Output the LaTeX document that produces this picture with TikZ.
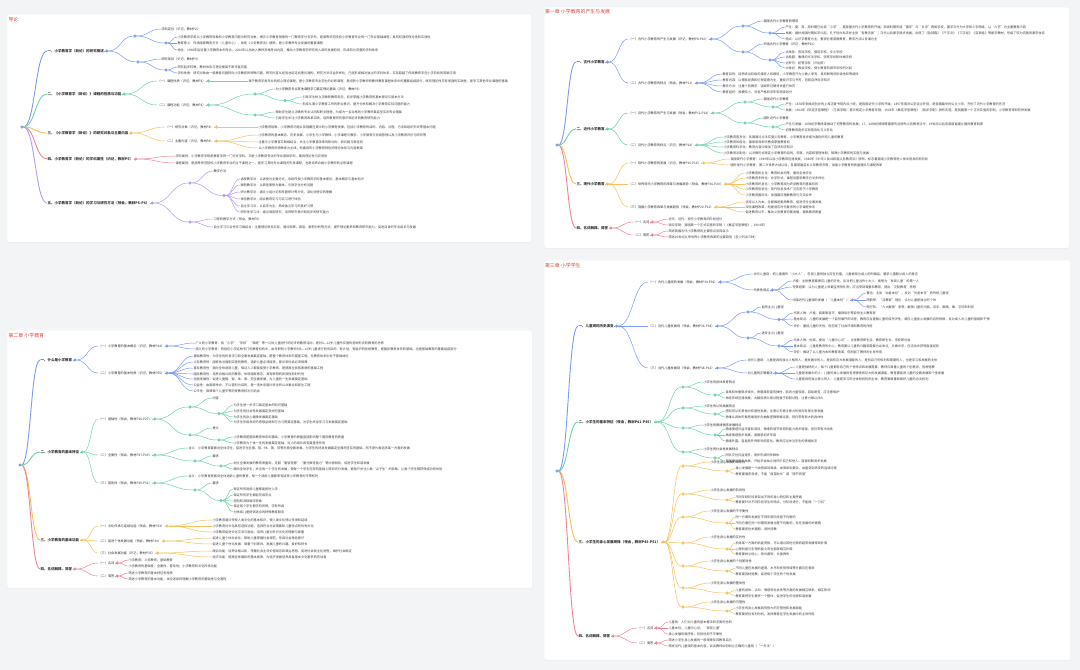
\documentclass[tikz,border=0pt]{standalone}
\usepackage{fontspec}
\setmainfont{Noto Sans CJK SC}
\usepackage{tikz}
\usetikzlibrary{calc,positioning,shadows}

\definecolor{pagebg}{HTML}{F3F4F6}
\definecolor{ttlred}{HTML}{E0453A}
\definecolor{txt}{HTML}{333333}
\definecolor{cblue}{HTML}{7C9CF4}
\definecolor{cgreen}{HTML}{6ED3A6}
\definecolor{corange}{HTML}{F5C15A}
\definecolor{cred}{HTML}{EF8594}
\definecolor{cpurple}{HTML}{B99BEF}

\begin{document}
\begin{tikzpicture}[x=1mm, y=-1mm,
    font=\fontsize{9}{10}\selectfont,
    panel/.style ={fill=white, draw=black!5, line width=0.4mm, rounded corners=1.5mm,
                   drop shadow={opacity=0.07, shadow xshift=0mm, shadow yshift=-1mm}},
    ttl/.style   ={anchor=west, inner sep=0pt, text=ttlred, font=\fontsize{14}{15}\selectfont},
    topic/.style ={anchor=west, inner sep=0.5mm, text=txt, font=\fontsize{10}{11}\selectfont\bfseries},
    sub/.style   ={anchor=west, inner sep=0.5mm, text=txt},
    leaf/.style  ={anchor=west, inner sep=0.5mm, text=black!75},
    dot/.style   ={circle, draw, fill=white, line width=0.4mm, minimum size=2.6mm, inner sep=0pt},
    ln/.style    ={line width=0.5mm},
    trunk/.style ={line width=0.9mm},
    cv/.style    ={to path={.. controls ($(\tikztostart)!0.5!(\tikztotarget |- \tikztostart)$)
                            and ($(\tikztotarget)!0.5!(\tikztostart |- \tikztotarget)$) .. (\tikztotarget)}}
]

\fill[pagebg] (0,0) rectangle (1080,670);
\useasboundingbox (0,0) rectangle (1080,670);

% ================= Panel 1: 导论 =================
\node[panel, anchor=north west, minimum width=524mm, minimum height=228mm] (pan1) at (7,14) {};
\node[ttl] (ttl1) at (8.5,19.5) {导论};
\node[dot, cblue] (p1r) at (22,127) {};
\node[topic] (p1m1) at (47,51)  {一、小学教育学（新论）的研究概述};
\node[topic] (p1m2) at (47,94)  {二、《小学教育学（新论）》课程的性质与功能};
\node[topic] (p1m3) at (47,133) {三、《小学教育学（新论）》的研究对象与主要内容};
\node[topic] (p1m4) at (47,159) {四、小学教育学（新论）的学科属性（识记，教材P5）};
\node[topic] (p1m5) at (47,203) {五、小学教育学（新论）的学习与研究方法（领会，教材P5-P6）};
\foreach \m/\c in {1/cblue, 2/cgreen, 3/corange, 4/cred, 5/cpurple}{
  \node[dot, \c, right=0.8mm of p1m\m] (p1d\m) {};
  \draw[trunk, \c] (p1r.east) to[cv] (p1m\m.west);
  \draw[ln, \c] (p1m\m.east) -- (p1d\m.west);
}

% --- 一 (blue) ---
\node[dot, cblue] (p1d11) at (135,36) {};
\node[dot, cblue] (p1d12) at (138,62) {};
\node[sub] (p1s11) at (161,29) {学科定位（识记，教材P2）};
\node[dot, cblue] (p1d111) at (166,43) {};
\node[sub] (p1s12) at (161,59) {研究现状（识记，教材P3）};
\node[dot, cblue] (p1d121) at (166,70) {};
\foreach \n in {p1d11, p1d12} \draw[ln, cblue] (p1d1.east) to[cv] (\n.west);
\draw[ln, cblue] (p1d11.east) to[cv] (p1s11.west);
\draw[ln, cblue] (p1d11.east) to[cv] (p1d111.west);
\draw[ln, cblue] (p1d12.east) to[cv] (p1s12.west);
\draw[ln, cblue] (p1d12.east) to[cv] (p1d121.west);
\foreach \y/\t [count=\i] in {
  37/{小学教育学是以小学教育现象和小学教育问题为研究对象，揭示小学教育规律的一门教育学分支学科，是高等师范院校小学教育专业的一门专业基础课程，具有较强的理论性和实践性},
  43/{教育意义：传承国家教育方针（儿童中心），体现《义务教育法》精神，是小学教师专业发展的重要课程},
  50/{地位：1998年后设置小学教育本科专业，2000年以后纳入教师资格考试内容，推动小学教育学研究进入新的发展阶段，形成较为完整的学科体系}}{
  \node[leaf] (p1a\i) at (177,\y) {\t};
  \draw[ln, cblue] (p1d111.east) to[cv] (p1a\i.west);
}
\foreach \y/\t [count=\i] in {
  67/{研究起步较晚，教材体系与理论框架不断丰富完善},
  73/{学科性质：研究对象由一般教育问题转向小学教育的特殊问题，研究内容从经验总结走向理论建构，研究方法日益多样化，已经形成相对独立的学科体系，实际超越了传统教育学在小学阶段的简单应用}}{
  \node[leaf] (p1b\i) at (177,\y) {\t};
  \draw[ln, cblue] (p1d121.east) to[cv] (p1b\i.west);
}

% --- 二 (green) ---
\foreach \n/\y/\t in {1/81/{（一）课程性质（识记，教材P3）}, 2/105/{（二）课程功能（识记，教材P3）}}{
  \node[sub] (p1s2\n) at (157,\y) {\t};
  \node[dot, cgreen, right=0.8mm of p1s2\n] (p1d2\n) {};
  \draw[ln, cgreen] (p1d2.east) to[cv] (p1s2\n.west);
  \draw[ln, cgreen] (p1s2\n.east) -- (p1d2\n.west);
}
\node[leaf] (p1c1) at (248,81) {属于教育学类专业的核心理论课程，是小学教育专业学生的必修课程，是培养小学教师的教师教育课程体系中的重要组成部分，既有理论性又有很强的实践性，是学习其他专业课程的基础};
\draw[ln, cgreen] (p1d21.east) -- (p1c1.west);
\node[dot, cgreen] (p1d221) at (255,94) {};
\node[dot, cgreen] (p1d222) at (255,115) {};
\foreach \n in {p1d221, p1d222} \draw[ln, cgreen] (p1d22.east) to[cv] (\n.west);
\node[sub] (p1s221) at (275,89) {为小学教育专业其他课程学习奠定理论基础（识记，教材P3）};
\node[dot, cgreen] (p1d2211) at (285,100.5) {};
\draw[ln, cgreen] (p1d221.east) to[cv] (p1s221.west);
\draw[ln, cgreen] (p1d221.east) to[cv] (p1d2211.west);
\foreach \y/\t [count=\i] in {
  97/{引导学生树立正确的教育观念，初步掌握小学教育的基本理论与基本方法},
  104/{形成从事小学教育工作的职业意识，提升分析和解决小学教育实际问题的能力}}{
  \node[leaf] (p1c2\i) at (302,\y) {\t};
  \draw[ln, cgreen] (p1d2211.east) to[cv] (p1c2\i.west);
}
\foreach \y/\t [count=\i] in {
  112/{帮助学生建立正确的专业认同和职业理想，为成为一名合格的小学教师奠定坚实的专业基础},
  118/{引导学生关注小学教育改革实践，培养教育研究意识和初步的教育研究能力}}{
  \node[leaf] (p1c3\i) at (275,\y) {\t};
  \draw[ln, cgreen] (p1d222.east) to[cv] (p1c3\i.west);
}

% --- 三 (orange) ---
\foreach \n/\y/\t in {1/127/{（一）研究对象（识记，教材P4）}, 2/141/{（二）主要内容（识记，教材P4）}}{
  \node[sub] (p1s3\n) at (165,\y) {\t};
  \node[dot, corange, right=0.8mm of p1s3\n] (p1d3\n) {};
  \draw[ln, corange] (p1d3.east) to[cv] (p1s3\n.west);
  \draw[ln, corange] (p1s3\n.east) -- (p1d3\n.west);
}
\node[leaf] (p1e1) at (258,127) {小学教育现象、小学教育问题以及隐藏在其中的小学教育规律，包括小学教育的目的、内容、过程、方法和组织形式等基本问题};
\draw[ln, corange] (p1d31.east) -- (p1e1.west);
\foreach \y/\t [count=\i] in {
  135/{小学教育的基本概念、历史发展、小学生与小学教师、小学课程与教学、小学德育与班级管理以及小学教育评价与研究等},
  142/{注重与小学教育实践相结合，关注小学教育改革的新动向、新问题与新经验},
  148/{以小学教育的特殊性为主线，构建具有小学教育特色的理论体系与内容框架}}{
  \node[leaf] (p1e2\i) at (258,\y) {\t};
  \draw[ln, corange] (p1d32.east) to[cv] (p1e2\i.west);
}

% --- 四 (red) ---
\foreach \y/\t [count=\i] in {
  156/{学科属性：小学教育学既是教育学的一门分支学科，又是小学教育专业的专业基础学科，兼具理论性与应用性},
  163/{课程属性：是高等师范院校小学教育专业的主干课程之一，是学习其他专业课程的先导课程，也是培养合格小学教师的必修课程}}{
  \node[leaf] (p1f\i) at (175,\y) {\t};
  \draw[ln, cred] (p1d4.east) to[cv] (p1f\i.west);
}

% --- 五 (purple) ---
\node[dot, cpurple] (p1d51) at (190,183) {};
\node[dot, cpurple] (p1d52) at (190,222) {};
\foreach \n in {p1d51, p1d52} \draw[ln, cpurple] (p1d5.east) to[cv] (\n.west);
\node[sub] (p1s51) at (213,171) {教学方法};
\node[dot, cpurple] (p1d511) at (224,195.5) {};
\draw[ln, cpurple] (p1d51.east) to[cv] (p1s51.west);
\draw[ln, cpurple] (p1d51.east) to[cv] (p1d511.west);
\foreach \y/\t [count=\i] in {
  179/{讲授教学法：以讲授为主要方式，系统传授小学教育学的基本理论、基本概念与基本知识},
  185/{案例教学法：以典型案例为载体，引导学生分析问题},
  192/{研讨教学法：通过小组讨论和专题研讨等方式，深化对理论的理解},
  199/{体验教学法：结合教育见习与实习进行体验},
  206/{自主学习法：以自学为主，养成独立学习的良好习惯},
  212/{研究性学习法：通过调查研究，培养研究意识和初步的研究能力}}{
  \node[leaf] (p1g\i) at (240,\y) {\t};
  \draw[ln, cpurple] (p1d511.east) to[cv] (p1g\i.west);
}
\foreach \y/\t [count=\i] in {
  219/{习得的教学方式（领会，教材P6）},
  227/{自主学习与合作学习相结合：注重理论联系实际，通过观察、调查、案例分析等方式，提升理论素养和教育研究能力，促进自身的专业成长与发展}}{
  \node[leaf] (p1h\i) at (213,\y) {\t};
  \draw[ln, cpurple] (p1d52.east) to[cv] (p1h\i.west);
}

% ================= Panel 2: 第一章 =================
\node[panel, anchor=north west, minimum width=525mm, minimum height=241mm] (pan2) at (544,7) {};
\node[ttl] (ttl2) at (545,11.5) {第一章 小学教育的产生与发展};
\node[dot, cblue] (p2r) at (557,145) {};
\node[topic] (p2m1) at (576,62)  {一、古代小学教育};
\node[topic] (p2m2) at (576,129) {二、近代小学教育};
\node[topic] (p2m3) at (576,184) {三、现代小学教育};
\node[topic] (p2m4) at (576,228) {四、名词解释、简答};
\foreach \m/\c in {1/cblue, 2/cgreen, 3/corange, 4/cred}{
  \node[dot, \c, right=0.8mm of p2m\m] (p2d\m) {};
  \draw[trunk, \c] (p2r.east) to[cv] (p2m\m.west);
  \draw[ln, \c] (p2m\m.east) -- (p2d\m.west);
}

% --- 一 (blue) ---
\foreach \n/\y/\t in {1/39/{（一）古代小学教育的产生与发展（识记，教材P8-P10）}, 2/83/{（二）古代小学教育的特点（领会，教材P11）}}{
  \node[sub] (p2s1\n) at (628,\y) {\t};
  \node[dot, cblue, right=0.8mm of p2s1\n] (p2d1\n) {};
  \draw[ln, cblue] (p2d1.east) to[cv] (p2s1\n.west);
  \draw[ln, cblue] (p2s1\n.east) -- (p2d1\n.west);
}
\node[dot, cblue] (p2d111) at (743,26) {};
\node[dot, cblue] (p2d112) at (743,52) {};
\foreach \n in {p2d111, p2d112} \draw[ln, cblue] (p2d11.east) to[cv] (\n.west);
\node[sub] (p2s111) at (763,21) {我国古代小学教育的萌芽};
\node[dot, cblue] (p2d1111) at (770,33) {};
\node[sub] (p2s112) at (763,44) {外国古代小学教育（识记，教材P10）};
\node[dot, cblue] (p2d1121) at (770,60) {};
\draw[ln, cblue] (p2d111.east) to[cv] (p2s111.west);
\draw[ln, cblue] (p2d111.east) to[cv] (p2d1111.west);
\draw[ln, cblue] (p2d112.east) to[cv] (p2s112.west);
\draw[ln, cblue] (p2d112.east) to[cv] (p2d1121.west);
\foreach \y/\t [count=\i] in {
  27/{产生：夏、商、周时期已出现“小学”，是我国古代小学教育的开端；西周时期形成“国学”与“乡学”两类学校，国学又分为大学和小学两级，以“六艺”为主要教育内容},
  33/{发展：春秋战国时期私学兴起，孔子创办私学并主张“有教无类”；汉代以后蒙学逐步发展，出现了《急就篇》《千字文》《三字经》《百家姓》等蒙学教材，形成了较为完备的蒙学体系},
  39/{特点：以识字教育为主，重视伦理道德教育，教学方法以背诵为主}}{
  \node[leaf] (p2a\i) at (785,\y) {\t};
  \draw[ln, cblue] (p2d1111.east) to[cv] (p2a\i.west);
}
\foreach \y/\t [count=\i] in {
  52/{古埃及：宫廷学校、僧侣学校、文士学校},
  57/{古希腊：雅典的文法学校、弦琴学校和体操学校},
  63/{古罗马：初等学校（卢达斯）},
  68/{中世纪：教会学校、骑士教育和城市学校的兴起}}{
  \node[leaf] (p2b\i) at (785,\y) {\t};
  \draw[ln, cblue] (p2d1121.east) to[cv] (p2b\i.west);
}
\foreach \y/\t [count=\i] in {
  74/{教育目的：培养统治阶级的接班人和顺民，小学教育只为少数人享有，具有鲜明的阶级性和等级性},
  80/{教育内容：以儒家经典和伦理道德为主，重视识字与书写，忽视自然科学知识},
  86/{教学方法：注重个别教学，强调死记硬背并盛行体罚},
  92/{教育组织：规模较小，没有严格的学年和班级划分}}{
  \node[leaf] (p2c\i) at (722,\y) {\t};
  \draw[ln, cblue] (p2d12.east) to[cv] (p2c\i.west);
}

% --- 二 (green) ---
\foreach \n/\y/\t in {1/113/{（一）近代小学教育的产生与发展（领会，教材P12-P14）}, 2/145/{（二）近代小学教育的特点（识记，教材P14）}}{
  \node[sub] (p2s2\n) at (628,\y) {\t};
  \node[dot, cgreen, right=0.8mm of p2s2\n] (p2d2\n) {};
  \draw[ln, cgreen] (p2d2.east) to[cv] (p2s2\n.west);
  \draw[ln, cgreen] (p2s2\n.east) -- (p2d2\n.west);
}
\node[dot, cgreen] (p2d211) at (745,102) {};
\node[dot, cgreen] (p2d212) at (745,123) {};
\foreach \n in {p2d211, p2d212} \draw[ln, cgreen] (p2d21.east) to[cv] (\n.west);
\node[sub] (p2s211) at (763,99) {我国近代小学教育};
\node[dot, cgreen] (p2d2111) at (773,107) {};
\node[sub] (p2s212) at (763,118) {国外近代小学教育};
\node[dot, cgreen] (p2d2121) at (773,127) {};
\draw[ln, cgreen] (p2d211.east) to[cv] (p2s211.west);
\draw[ln, cgreen] (p2d211.east) to[cv] (p2d2111.west);
\draw[ln, cgreen] (p2d212.east) to[cv] (p2s212.west);
\draw[ln, cgreen] (p2d212.east) to[cv] (p2d2121.west);
\foreach \y/\t [count=\i] in {
  104/{产生：1878年张焕纶创办的上海正蒙书院内设小班，是我国近代小学的开端；1897年南洋公学设立外院，是我国最早的公立小学，开创了近代小学教育的先河},
  110/{发展：1902年《钦定学堂章程》（壬寅学制）首次规定小学教育年限；1904年《奏定学堂章程》（癸卯学制）颁布实施，是我国第一个正式实施的学制，小学教育得到较快发展}}{
  \node[leaf] (p2e\i) at (785,\y) {\t};
  \draw[ln, cgreen] (p2d2111.east) to[cv] (p2e\i.west);
}
\foreach \y/\t [count=\i] in {
  124/{产生与发展：16世纪宗教改革推动了初等教育的发展；17、18世纪德国等国家先后颁布义务教育法令，19世纪以后各国普遍建立国民教育制度},
  130/{初等教育逐步实现普及化与义务化}}{
  \node[leaf] (p2f\i) at (785,\y) {\t};
  \draw[ln, cgreen] (p2d2121.east) to[cv] (p2f\i.west);
}
\foreach \y/\t [count=\i] in {
  137/{小学教育普及化：各国通过立法实施义务教育，小学教育逐步成为面向所有儿童的教育},
  142/{小学教育世俗化：国家逐渐取代教会掌握教育权},
  147/{小学教育科学化：教育内容中增加了自然科学知识},
  153/{小学教育法制化：以法律形式规定小学教育的目的、年限、内容和管理体制，保障小学教育的实施与发展}}{
  \node[leaf] (p2g\i) at (723,\y) {\t};
  \draw[ln, cgreen] (p2d22.east) to[cv] (p2g\i.west);
}

% --- 三 (orange) ---
\foreach \n/\y/\t in {1/163/{（一）现代小学教育的发展（识记，教材P15-P16）}, 2/184/{（二）世界现代小学教育的改革与发展趋势（领会，教材P16-P20）}, 3/207/{（三）我国小学教育改革与发展趋势（领会，教材P20-P21）}}{
  \node[sub] (p2s3\n) at (628,\y) {\t};
  \node[dot, corange, right=0.8mm of p2s3\n] (p2d3\n) {};
  \draw[ln, corange] (p2d3.east) to[cv] (p2s3\n.west);
  \draw[ln, corange] (p2s3\n.east) -- (p2d3\n.west);
}
\foreach \y/\t [count=\i] in {
  159/{我国现代小学教育：1949年以后小学教育迅速发展，1986年《中华人民共和国义务教育法》颁布，标志着我国小学教育进入依法普及的新阶段},
  165/{国外现代小学教育：第二次世界大战以后，各国普遍延长义务教育年限，加强小学教育的质量建设与课程改革}}{
  \node[leaf] (p2h\i) at (730,\y) {\t};
  \draw[ln, corange] (p2d31.east) to[cv] (p2h\i.west);
}
\foreach \y/\t [count=\i] in {
  173/{小学教育民主化：教育机会均等，面向全体学生},
  178/{小学教育多样化：办学形式、课程设置和教学方法多样化},
  184/{小学教育终身化：小学教育成为终身教育的基础阶段},
  189/{小学教育信息化：现代信息技术广泛应用于小学教育},
  195/{小学教育国际化：加强国际理解教育与交流合作}}{
  \node[leaf] (p2k\i) at (745,\y) {\t};
  \draw[ln, corange] (p2d32.east) to[cv] (p2k\i.west);
}
\foreach \y/\t [count=\i] in {
  202/{坚持以人为本，全面推进素质教育，促进学生全面发展},
  207/{深化课程改革，构建适应时代要求的小学课程体系},
  212/{促进教育公平，推动义务教育均衡发展，提高教育质量}}{
  \node[leaf] (p2l\i) at (745,\y) {\t};
  \draw[ln, corange] (p2d33.east) to[cv] (p2l\i.west);
}

% --- 四 (red) ---
\foreach \n/\y/\t in {1/222/{（一）名词}, 2/235/{（二）简答}}{
  \node[sub] (p2s4\n) at (633,\y) {\t};
  \node[dot, cred, right=0.8mm of p2s4\n] (p2d4\n) {};
  \draw[ln, cred] (p2d4.east) to[cv] (p2s4\n.west);
  \draw[ln, cred] (p2s4\n.east) -- (p2d4\n.west);
}
\foreach \y/\t [count=\i] in {
  219/{古代、近代、现代小学教育的阶段划分},
  225/{癸卯学制：我国第一个正式实施的学制（《奏定学堂章程》，1904年）}}{
  \node[leaf] (p2n\i) at (668,\y) {\t};
  \draw[ln, cred] (p2d41.east) to[cv] (p2n\i.west);
}
\foreach \y/\t [count=\i] in {
  231/{简述我国古代小学教育的主要特点及其启示},
  237/{简述20世纪以来世界小学教育改革的主要趋势（至少列出三种）}}{
  \node[leaf] (p2o\i) at (668,\y) {\t};
  \draw[ln, cred] (p2d42.east) to[cv] (p2o\i.west);
}

% ================= Panel 3: 第二章 =================
\node[panel, anchor=north west, minimum width=525mm, minimum height=258mm] (pan3) at (7,330) {};
\node[ttl] (ttl3) at (8.5,335.5) {第二章 小学教育};
\node[dot, cblue] (p3r) at (20,465) {};
\node[topic] (p3m1) at (40,360) {一、什么是小学教育};
\node[topic] (p3m2) at (40,452) {二、小学教育的基本特征};
\node[topic] (p3m3) at (40,540) {三、小学教育的基本功能};
\node[topic] (p3m4) at (40,569) {四、名词解释、简答};
\foreach \m/\c in {1/cblue, 2/cgreen, 3/corange, 4/cred}{
  \node[dot, \c, right=0.8mm of p3m\m] (p3d\m) {};
  \draw[trunk, \c] (p3r.east) to[cv] (p3m\m.west);
  \draw[ln, \c] (p3m\m.east) -- (p3d\m.west);
}

% --- 一 (blue) ---
\foreach \n/\y/\t in {1/346/{（一）小学教育的基本概念（识记，教材P24）}, 2/373/{（二）小学教育的基本性质（识记，教材P25）}}{
  \node[sub] (p3s1\n) at (98,\y) {\t};
  \node[dot, cblue, right=0.8mm of p3s1\n] (p3d1\n) {};
  \draw[ln, cblue] (p3d1.east) to[cv] (p3s1\n.west);
  \draw[ln, cblue] (p3s1\n.east) -- (p3d1\n.west);
}
\foreach \y/\t [count=\i] in {
  343/{广义的小学教育：指“小学”“学校”“家庭”等一切对儿童进行的初步的教育活动，是对6—12岁儿童所实施的各种形式的教育的总称},
  349/{狭义的小学教育：特指在小学这种专门的教育机构中，由专职的小学教师对6—12岁儿童进行的有目的、有计划、有组织的系统教育，是国民教育体系的基础，也是基础教育的重要组成部分}}{
  \node[leaf] (p3a\i) at (195,\y) {\t};
  \draw[ln, cblue] (p3d11.east) to[cv] (p3a\i.west);
}
\foreach \y/\t [count=\i] in {
  356/{基础教育性：为学生的终身学习和全面发展奠定基础，是整个教育体系的奠基工程，在教育体系中处于基础地位},
  362/{义务教育性：国家依法强制实施的教育，适龄儿童必须接受，家长和社会必须保障},
  368/{普及教育性：面向全体适龄儿童，保证人人都能接受小学教育，是提高全民族素质的基础工程},
  374/{国民教育性：培养合格公民的教育，体现国家意志，具有鲜明的民族性和时代性},
  379/{全面发展性：促进儿童德、智、体、美、劳全面发展，为儿童的一生发展奠定基础},
  385/{公益性：由国家举办，不以营利为目的，是一项关系国计民生的公共事业和民生工程},
  391/{公平性：保障每个儿童平等的受教育权利与机会}}{
  \node[leaf] (p3b\i) at (193,\y) {\t};
  \draw[ln, cblue] (p3d12.east) to[cv] (p3b\i.west);
}

% --- 二 (green) ---
\foreach \n/\y/\t in {1/419/{（一）基础性（领会，教材P26-P27）}, 2/455/{（二）全面性（领会，教材P27-P29）}, 3/483/{（三）普及性（领会，教材P29-P31）}}{
  \node[sub] (p3s2\n) at (98,\y) {\t};
  \node[dot, cgreen, right=0.8mm of p3s2\n] (p3d2\n) {};
  \draw[ln, cgreen] (p3d2.east) to[cv] (p3s2\n.west);
  \draw[ln, cgreen] (p3s2\n.east) -- (p3d2\n.west);
}
\node[dot, cgreen] (p3d211) at (190,407) {};
\node[dot, cgreen] (p3d212) at (190,435) {};
\foreach \n in {p3d211, p3d212} \draw[ln, cgreen] (p3d21.east) to[cv] (\n.west);
\node[sub] (p3s211) at (212,398) {内容};
\node[dot, cgreen] (p3d2111) at (219,413.5) {};
\node[sub] (p3s212) at (212,428) {意义};
\node[dot, cgreen] (p3d2121) at (219,440) {};
\draw[ln, cgreen] (p3d211.east) to[cv] (p3s211.west);
\draw[ln, cgreen] (p3d211.east) to[cv] (p3d2111.west);
\draw[ln, cgreen] (p3d212.east) to[cv] (p3s212.west);
\draw[ln, cgreen] (p3d212.east) to[cv] (p3d2121.west);
\foreach \y/\t [count=\i] in {
  405/{为学生进一步学习奠定基本的知识基础},
  411/{为学生的社会性发展奠定良好的基础},
  417/{为学生的身心健康发展奠定基础},
  422/{为学生形成良好的思想品德和行为习惯奠定基础，为学生终身学习与发展奠定基础}}{
  \node[leaf] (p3c\i) at (233,\y) {\t};
  \draw[ln, cgreen] (p3d2111.east) to[cv] (p3c\i.west);
}
\foreach \y/\t [count=\i] in {
  437/{小学教育是国民教育体系的基础，小学教育的质量直接影响整个国民教育的质量},
  443/{小学教育为个体一生的发展奠定基础，对人的成长具有奠基性作用}}{
  \node[leaf] (p3e\i) at (233,\y) {\t};
  \draw[ln, cgreen] (p3d2121.east) to[cv] (p3e\i.west);
}
\node[leaf] (p3f1) at (188,448) {含义：小学教育要面向全体学生，促进学生在德、智、体、美、劳等方面全面发展，为学生的终身发展奠定全面而坚实的基础，而不是片面追求某一方面的发展};
\node[dot, cgreen] (p3d221) at (195,461) {};
\draw[ln, cgreen] (p3d22.east) to[cv] (p3f1.west);
\draw[ln, cgreen] (p3d22.east) to[cv] (p3d221.west);
\node[sub] (p3s221) at (212,456) {要求};
\node[dot, cgreen] (p3d2211) at (221,466) {};
\draw[ln, cgreen] (p3d221.east) to[cv] (p3s221.west);
\draw[ln, cgreen] (p3d221.east) to[cv] (p3d2211.west);
\foreach \y/\t [count=\i] in {
  463/{树立全面发展的教育质量观，克服“重智轻德”“重分数轻能力”等片面倾向，促进学生和谐发展},
  469/{面向全体学生，关注每一个学生的发展，使每一个学生在原有基础上得到充分发展，避免只关注少数“尖子生”的现象，让每个学生都获得成功的体验}}{
  \node[leaf] (p3g\i) at (233,\y) {\t};
  \draw[ln, cgreen] (p3d2211.east) to[cv] (p3g\i.west);
}
\node[leaf] (p3h1) at (188,476) {含义：小学教育是面向全体适龄儿童的教育，每一个适龄儿童都享有接受小学教育的平等权利};
\node[dot, cgreen] (p3d231) at (195,490) {};
\draw[ln, cgreen] (p3d23.east) to[cv] (p3h1.west);
\draw[ln, cgreen] (p3d23.east) to[cv] (p3d231.west);
\node[sub] (p3s231) at (212,483) {要求};
\node[dot, cgreen] (p3d2311) at (221,500.5) {};
\draw[ln, cgreen] (p3d231.east) to[cv] (p3s231.west);
\draw[ln, cgreen] (p3d231.east) to[cv] (p3d2311.west);
\foreach \y/\t [count=\i] in {
  489/{保证所有适龄儿童都能按时入学},
  495/{保证所有学生都能完成学业},
  501/{控制和消除辍学现象},
  506/{保证每个学生都学有所得、学有所成},
  512/{为残疾儿童提供适合的特殊教育服务}}{
  \node[leaf] (p3k\i) at (233,\y) {\t};
  \draw[ln, cgreen] (p3d2311.east) to[cv] (p3k\i.west);
}

% --- 三 (orange) ---
\foreach \n/\y/\t in {1/526/{（一）文化传承与延续功能（领会，教材P33）}, 2/541/{（二）促进个体发展功能（领会，教材P34）}, 3/553/{（三）社会发展功能（识记，教材P35）}}{
  \node[sub] (p3s3\n) at (98,\y) {\t};
  \node[dot, corange, right=0.8mm of p3s3\n] (p3d3\n) {};
  \draw[ln, corange] (p3d3.east) to[cv] (p3s3\n.west);
  \draw[ln, corange] (p3s3\n.east) -- (p3d3\n.west);
}
\foreach \y/\t [count=\i] in {
  520/{小学教育通过传授人类文化的基本知识，使人类文化得以传承和延续},
  526/{小学教育对文化具有选择功能，选择符合社会需要和儿童特点的优秀文化},
  532/{小学教育促进文化交流与融合，培养儿童对多元文化的理解与尊重}}{
  \node[leaf] (p3l\i) at (212,\y) {\t};
  \draw[ln, corange] (p3d31.east) to[cv] (p3l\i.west);
}
\foreach \y/\t [count=\i] in {
  538/{促进儿童个体社会化：帮助儿童掌握社会规范，形成社会角色意识},
  544/{促进儿童个性化发展：尊重个别差异，发展儿童的兴趣、爱好和特长}}{
  \node[leaf] (p3n\i) at (212,\y) {\t};
  \draw[ln, corange] (p3d32.east) to[cv] (p3n\i.west);
}
\foreach \y/\t [count=\i] in {
  551/{政治功能：培养合格公民，传播社会主流价值观念和政治思想，促进社会民主化进程，维护社会稳定},
  557/{经济功能：提高全体国民的基本素质，为经济发展培养具备基本文化素养的劳动者}}{
  \node[leaf] (p3o\i) at (212,\y) {\t};
  \draw[ln, corange] (p3d33.east) to[cv] (p3o\i.west);
}

% --- 四 (red) ---
\foreach \n/\y/\t in {1/563/{（一）名词}, 2/576/{（二）简答}}{
  \node[sub] (p3s4\n) at (98,\y) {\t};
  \node[dot, cred, right=0.8mm of p3s4\n] (p3d4\n) {};
  \draw[ln, cred] (p3d4.east) to[cv] (p3s4\n.west);
  \draw[ln, cred] (p3s4\n.east) -- (p3d4\n.west);
}
\foreach \y/\t [count=\i] in {
  560/{小学教育；义务教育；基础教育},
  566/{小学教育的基础性、全面性、普及性；小学教育的文化传承功能}}{
  \node[leaf] (p3q\i) at (128,\y) {\t};
  \draw[ln, cred] (p3d41.east) to[cv] (p3q\i.west);
}
\foreach \y/\t [count=\i] in {
  573/{简述小学教育的基本特征和性质},
  579/{简述小学教育的基本功能，试论述如何理解小学教育的基础性与全面性}}{
  \node[leaf] (p3u\i) at (128,\y) {\t};
  \draw[ln, cred] (p3d42.east) to[cv] (p3u\i.west);
}

% ================= Panel 4: 第三章 =================
\node[panel, anchor=north west, minimum width=526mm, minimum height=400mm] (pan4) at (544,260) {};
\node[ttl] (ttl4) at (545,265.5) {第三章 小学学生};
\node[dot, cblue] (p4r) at (557,471) {};
\node[topic] (p4m1) at (578,326) {一、儿童观的历史演变};
\node[topic] (p4m2) at (578,422) {二、小学生的基本特征（领会，教材P41-P45）};
\node[topic] (p4m3) at (578,542) {三、小学生的身心发展规律（领会，教材P45-P51）};
\node[topic] (p4m4) at (578,636) {四、名词解释、简答};
\foreach \m/\c in {1/cblue, 2/cgreen, 3/corange, 4/cred}{
  \node[dot, \c, right=0.8mm of p4m\m] (p4d\m) {};
  \draw[trunk, \c] (p4r.east) to[cv] (p4m\m.west);
  \draw[ln, \c] (p4m\m.east) -- (p4d\m.west);
}

% --- 一 (blue) ---
\foreach \n/\y/\t in {1/282/{（一）古代儿童观的发展（领会，教材P34-P36）}, 2/326/{（二）近代儿童发展观（领会，教材P36-P38）}, 3/368/{（三）当代儿童发展观（领会，教材P38-P41）}}{
  \node[sub] (p4s1\n) at (648,\y) {\t};
  \node[dot, cblue, right=0.8mm of p4s1\n] (p4d1\n) {};
  \draw[ln, cblue] (p4d1.east) to[cv] (p4s1\n.west);
  \draw[ln, cblue] (p4s1\n.east) -- (p4d1\n.west);
}
\node[leaf] (p4a1) at (753,274) {古代儿童观：把儿童看作“小大人”，忽视儿童的独立存在价值，儿童被视为成人的附属品，要求儿童服从成人的意志};
\node[sub] (p4s111) at (753,290) {代表性观点};
\node[dot, cblue, right=0.8mm of p4s111] (p4d111) {};
\draw[ln, cblue] (p4d11.east) to[cv] (p4a1.west);
\draw[ln, cblue] (p4d11.east) to[cv] (p4s111.west);
\draw[ln, cblue] (p4s111.east) -- (p4d111.west);
\foreach \y/\t [count=\i] in {
  281/{卢梭：主张教育要顺应儿童的天性，反对把儿童当作小大人，被誉为“发现儿童”的第一人},
  287/{夸美纽斯：认为儿童是上帝最宝贵的礼物，应当受到尊重和教育，提出“泛智教育”思想}}{
  \node[leaf] (p4b\i) at (792,\y) {\t};
  \draw[ln, cblue] (p4d111.east) to[cv] (p4b\i.west);
}
\node[sub] (p4s112) at (792,300) {中国近代儿童观的发展（“儿童本位”）};
\node[dot, cblue, right=0.8mm of p4s112] (p4d112) {};
\draw[ln, cblue] (p4d111.east) to[cv] (p4s112.west);
\draw[ln, cblue] (p4s112.east) -- (p4d112.west);
\foreach \y/\t [count=\i] in {
  293/{鲁迅：主张“幼者本位”，反对“长者本位”的传统儿童观},
  300/{陈鹤琴：“活教育”理论，认为儿童是独立的个体},
  307/{陶行知：“六大解放”思想，解放儿童的头脑、双手、眼睛、嘴、空间和时间}}{
  \node[leaf] (p4c\i) at (866,\y) {\t};
  \draw[ln, cblue] (p4d112.east) to[cv] (p4c\i.west);
}
\node[dot, cblue] (p4d121) at (748,312) {};
\node[dot, cblue] (p4d122) at (748,338) {};
\foreach \n in {p4d121, p4d122} \draw[ln, cblue] (p4d12.east) to[cv] (\n.west);
\node[sub] (p4s121) at (761,307) {自然主义儿童观};
\node[dot, cblue] (p4d1211) at (779,319.5) {};
\node[sub] (p4s122) at (761,333) {进步主义儿童观};
\node[dot, cblue] (p4d1221) at (779,346) {};
\draw[ln, cblue] (p4d121.east) to[cv] (p4s121.west);
\draw[ln, cblue] (p4d121.east) to[cv] (p4d1211.west);
\draw[ln, cblue] (p4d122.east) to[cv] (p4s122.west);
\draw[ln, cblue] (p4d122.east) to[cv] (p4d1221.west);
\foreach \y/\t [count=\i] in {
  313/{代表人物：卢梭、裴斯泰洛齐、福禄培尔等自然主义教育家},
  319/{基本观点：儿童的发展是一个自然展开的过程，教育应当遵循儿童的自然天性，顺应儿童身心发展的自然规律，反对成人对儿童的强制和干预},
  326/{评价：重视儿童的天性，但忽视了社会环境和教育的作用}}{
  \node[leaf] (p4e\i) at (793,\y) {\t};
  \draw[ln, cblue] (p4d1211.east) to[cv] (p4e\i.west);
}
\foreach \y/\t [count=\i] in {
  340/{代表人物：杜威，提出“儿童中心论”，主张教育即生活、教育即生长、学校即社会},
  346/{基本观点：儿童是教育的中心，教育要以儿童的兴趣和需要为出发点，从做中学，在活动中获得直接经验},
  352/{评价：推动了以儿童为本的教育改革，但削弱了教师的主导作用}}{
  \node[leaf] (p4f\i) at (793,\y) {\t};
  \draw[ln, cblue] (p4d1221.east) to[cv] (p4f\i.west);
}
\node[leaf] (p4g1) at (747,360) {当代儿童观：儿童是具有独立人格的人，是发展中的人，是具有巨大发展潜能的人，是有自己的权利和需要的人，也是学习和发展的主体};
\node[sub] (p4s131) at (747,373) {对儿童的正确看法};
\node[dot, cblue, right=0.8mm of p4s131] (p4d131) {};
\draw[ln, cblue] (p4d13.east) to[cv] (p4g1.west);
\draw[ln, cblue] (p4d13.east) to[cv] (p4s131.west);
\draw[ln, cblue] (p4s131.east) -- (p4d131.west);
\foreach \y/\t [count=\i] in {
  367/{儿童是独特的人：每个儿童都有自己的个性特点和发展需要，教师应尊重儿童的个别差异，因材施教},
  373/{儿童是发展中的人：儿童的身心发展具有规律性和巨大的发展潜能，教育要促进儿童的全面发展和个性发展},
  379/{儿童是具有独立意义的人：儿童是学习的主体和权利的主体，教育要尊重和保护儿童的合法权利}}{
  \node[leaf] (p4h\i) at (795,\y) {\t};
  \draw[ln, cblue] (p4d131.east) to[cv] (p4h\i.west);
}

% --- 二 (green) ---
\foreach \n/\ya/\yb/\ydot/\t in {
  1/387/382/395/{小学生的身体发育特点},
  2/408/406/414/{小学生的认知发展特点},
  3/428/425/435/{小学生的情绪情感发展特点},
  4/452/449/458/{小学生的社会性发展特点}}{
  \node[dot, cgreen] (p4d2\n) at (683,\ya) {};
  \node[sub] (p4s2\n) at (703,\yb) {\t};
  \node[dot, cgreen] (p4d2\n1) at (715,\ydot) {};
  \draw[ln, cgreen] (p4d2.east) to[cv] (p4d2\n.west);
  \draw[ln, cgreen] (p4d2\n.east) to[cv] (p4s2\n.west);
  \draw[ln, cgreen] (p4d2\n.east) to[cv] (p4d2\n1.west);
}
\foreach \d/\y/\t [count=\i] in {
  1/392/{身高和体重稳步增长，骨骼柔软富有弹性，肌肉力量较弱，容易疲劳，应注意保护},
  1/398/{神经系统迅速发展，大脑皮质兴奋过程强于抑制过程，注意力难以持久},
  2/411/{感知觉从无意性向有意性发展；注意从无意注意占优势向有意注意发展},
  2/417/{思维从具体形象思维逐步向抽象逻辑思维过渡，但仍带有很大的具体性},
  3/429/{情绪情感日益丰富和深刻，情绪的调节和控制能力逐步增强，但仍带有冲动性},
  3/435/{高级情感逐步发展，道德感初步形成},
  3/441/{情绪外露，容易受外界影响而变化，教师应当关注学生的情绪状态},
  4/455/{同伴交往日益增多，逐步形成同伴群体},
  4/461/{自我意识逐步发展，开始学会独立地评价自己和他人，道德判断逐步发展}}{
  \node[leaf] (p4k\i) at (725,\y) {\t};
  \draw[ln, cgreen] (p4d2\d1.east) to[cv] (p4k\i.west);
}

% --- 三 (orange) ---
\foreach \n/\ya/\yb/\ydot/\t in {
  1/466/462/471/{小学生身心发展的顺序性},
  2/494/490/500/{小学生身心发展的阶段性},
  3/517/511/523/{小学生身心发展的不平衡性},
  4/543/537/549/{小学生身心发展的互补性},
  5/566/561/571/{小学生身心发展的个别差异性},
  6/588/583/593/{小学生身心发展的整体性},
  7/607/602/611/{小学生身心发展的可塑性}}{
  \node[dot, corange] (p4d3\n) at (683,\ya) {};
  \node[sub] (p4s3\n) at (710,\yb) {\t};
  \node[dot, corange] (p4d3\n1) at (727,\ydot) {};
  \draw[ln, corange] (p4d3.east) to[cv] (p4d3\n.west);
  \draw[ln, corange] (p4d3\n.east) to[cv] (p4s3\n.west);
  \draw[ln, corange] (p4d3\n.east) to[cv] (p4d3\n1.west);
}
\foreach \d/\y/\t [count=\i] in {
  1/468/{身心发展是一个由低级到高级、由简单到复杂、由量变到质变的连续过程},
  1/474/{教育要循序渐进，不能“拔苗助长”或“陵节而施”},
  2/497/{不同年龄阶段表现出不同的身心特征和主要矛盾},
  2/502/{教育要针对不同阶段学生的特点，分阶段进行，不能搞“一刀切”},
  3/517/{同一方面的发展在不同年龄阶段是不均衡的},
  3/523/{不同方面在同一时期的发展也是不均衡的，存在发展的关键期},
  3/529/{教育要抓住关键期，适时而教},
  4/543/{机体某一方面的机能受损，可以通过其他方面的超常发展得到补偿},
  4/549/{心理机能与生理机能之间也能够相互补偿},
  4/554/{教育要树立信心，扬长避短，长善救失},
  5/568/{不同儿童在发展的速度、水平和优势领域等方面存在差异},
  5/574/{教育要因材施教，促进每个学生的个性发展},
  6/590/{儿童的身体、认知、情感和社会性等方面的发展相互联系、相互影响},
  6/596/{教育要把学生看作一个整体，促进学生的全面和谐发展},
  7/608/{小学生的身心发展具有很大的可塑性和发展潜能},
  7/614/{教育要抓住有利时机，发挥教育在学生发展中的主导作用}}{
  \node[leaf] (p4l\i) at (735,\y) {\t};
  \draw[ln, corange] (p4d3\d1.east) to[cv] (p4l\i.west);
}

% --- 四 (red) ---
\foreach \n/\y/\t in {1/628/{（一）名词}, 2/643/{（二）简答}}{
  \node[sub] (p4s4\n) at (637,\y) {\t};
  \node[dot, cred, right=0.8mm of p4s4\n] (p4d4\n) {};
  \draw[ln, cred] (p4d4.east) to[cv] (p4s4\n.west);
  \draw[ln, cred] (p4s4\n.east) -- (p4d4\n.west);
}
\foreach \y/\t [count=\i] in {
  622/{儿童观：人们对儿童的基本看法和态度的总和},
  628/{儿童本位；儿童中心论；“发现儿童”},
  634/{身心发展的顺序性、阶段性和不平衡性}}{
  \node[leaf] (p4n\i) at (668,\y) {\t};
  \draw[ln, cred] (p4d41.east) to[cv] (p4n\i.west);
}
\foreach \y/\t [count=\i] in {
  640/{简述小学生身心发展的一般规律及其教育启示},
  646/{简述当代儿童观的基本内容，谈谈教师如何树立正确的儿童观（“一方法”）}}{
  \node[leaf] (p4o\i) at (668,\y) {\t};
  \draw[ln, cred] (p4d42.east) to[cv] (p4o\i.west);
}

\end{tikzpicture}
\end{document}
